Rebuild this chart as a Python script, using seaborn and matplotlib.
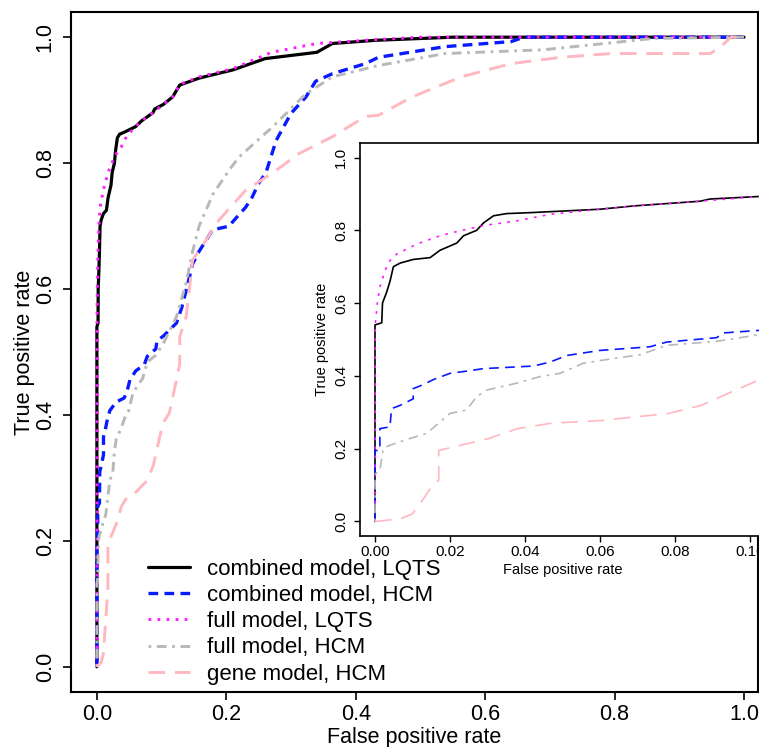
import matplotlib
matplotlib.use("Agg")
import matplotlib.pyplot as plt
import pandas as pd
import seaborn as sns

################ ROC CURVE POINTS ################

model_names = ["combined model, LQTS", "combined model, HCM", "full model, LQTS",
               "full model, HCM", "gene model, HCM"]

comb_lqts_fpr = [0, 0, 0.0018, 0.002, 0.0031, 0.004, 0.0049, 0.0067, 0.0102, 0.0147, 0.0173,
                 0.0218, 0.0236, 0.0271, 0.0289, 0.0316, 0.0351, 0.0422, 0.06, 0.0689, 0.0867,
                 0.0893, 0.1024, 0.117, 0.128, 0.158, 0.21, 0.26, 0.34, 0.364, 0.43, 0.55, 1.0]
comb_lqts_tpr = [0, 0.54, 0.546, 0.60, 0.63, 0.66, 0.70, 0.71, 0.72, 0.725, 0.745,
                 0.765, 0.785, 0.80, 0.82, 0.84, 0.846, 0.849, 0.858, 0.867, 0.88,
                 0.886, 0.893, 0.905, 0.924, 0.935, 0.948, 0.966, 0.976, 0.99, 0.995, 1.0, 1.0]

comb_hcm_fpr = [0, 0, 0.0013, 0.0013, 0.004, 0.0044, 0.0067, 0.0102, 0.0102, 0.0129, 0.0156,
                0.02, 0.0244, 0.0289, 0.0422, 0.0467, 0.0511, 0.06, 0.0733, 0.0778, 0.0911,
                0.0929, 0.1024, 0.123, 0.131, 0.138, 0.148, 0.158, 0.179, 0.205, 0.21, 0.23,
                0.24, 0.25, 0.261, 0.277, 0.30, 0.323, 0.338, 0.364, 0.415, 0.435, 0.538,
                0.64, 0.66, 1.0]
comb_hcm_tpr = [0, 0.195, 0.195, 0.255, 0.26, 0.31, 0.319, 0.337, 0.365, 0.376, 0.39,
                0.407, 0.413, 0.42, 0.427, 0.438, 0.456, 0.47, 0.48, 0.493, 0.505,
                0.518, 0.525, 0.546, 0.57, 0.598, 0.64, 0.66, 0.694, 0.70, 0.707, 0.73,
                0.746, 0.768, 0.784, 0.836, 0.879, 0.905, 0.93, 0.942, 0.958, 0.968, 0.985,
                0.993, 1.0, 1.0]

full_lqts_fpr = [0, 0, 0.0006, 0.0013, 0.0027, 0.004, 0.0058, 0.0111, 0.0173, 0.0227, 0.0289,
                 0.0378, 0.0467, 0.06, 0.0689, 0.0867, 0.1024, 0.117, 0.128, 0.158, 0.21,
                 0.27, 0.34, 0.43, 0.5, 1.0]
full_lqts_tpr = [0, 0.535, 0.598, 0.644, 0.69, 0.717, 0.735, 0.762, 0.785, 0.799, 0.813,
                 0.826, 0.844, 0.858, 0.867, 0.88, 0.893, 0.905, 0.925, 0.937, 0.95,
                 0.976, 0.99, 0.996, 1.0, 1.0]

full_hcm_fpr = [0, 0, 0.0013, 0.0022, 0.0036, 0.0093, 0.0138, 0.0164, 0.02, 0.0244, 0.0271,
                0.0298, 0.0378, 0.044, 0.0493, 0.0556, 0.0644, 0.0707, 0.0778, 0.0911, 0.1024,
                0.123, 0.138, 0.148, 0.158, 0.179, 0.205, 0.22, 0.271, 0.323, 0.364, 0.435,
                0.538, 0.69, 0.785, 0.86, 1.0]
full_hcm_tpr = [0, 0.13, 0.14, 0.20, 0.208, 0.228, 0.242, 0.265, 0.297, 0.306, 0.343,
                0.361, 0.38, 0.398, 0.407, 0.435, 0.449, 0.458, 0.484, 0.495, 0.513,
                0.556, 0.61, 0.66, 0.70, 0.75, 0.79, 0.81, 0.857, 0.91, 0.937, 0.955,
                0.974, 0.98, 0.99, 0.998, 1.0]

gene_hcm_fpr = [0, 0.0067, 0.010, 0.0129, 0.0156, 0.017, 0.017, 0.0227, 0.030, 0.038, 0.047,
                0.060, 0.069, 0.078, 0.087, 0.094, 0.102, 0.112, 0.123, 0.128, 0.128,
                0.138, 0.148, 0.169, 0.189, 0.23, 0.271, 0.312, 0.364, 0.415, 0.435,
                0.487, 0.563, 0.64, 0.717, 0.794, 0.948, 0.963, 0.98, 1.0]
gene_hcm_tpr = [0, 0.007, 0.021, 0.062, 0.104, 0.113, 0.195, 0.209, 0.227, 0.255, 0.27,
                0.277, 0.287, 0.296, 0.319, 0.351, 0.387, 0.403, 0.456, 0.48, 0.524,
                0.556, 0.646, 0.678, 0.71, 0.757, 0.784, 0.815, 0.842, 0.874, 0.876,
                0.905, 0.937, 0.958, 0.968, 0.974, 0.974, 0.984, 1.0, 1.0]

all_fpr = [comb_lqts_fpr, comb_hcm_fpr, full_lqts_fpr, full_hcm_fpr, gene_hcm_fpr]
all_tpr = [comb_lqts_tpr, comb_hcm_tpr, full_lqts_tpr, full_hcm_tpr, gene_hcm_tpr]

df = pd.concat([pd.DataFrame({'fpr': f, 'tpr': t, 'model': m})
                for m, f, t in zip(model_names, all_fpr, all_tpr)], ignore_index=True)

################ STYLE ################

sns.set_theme(style="ticks")
plt.rcParams['font.family'] = ['Liberation Sans', 'DejaVu Sans']
plt.rcParams['lines.scale_dashes'] = False
plt.rcParams['text.color'] = 'black'
plt.rcParams['axes.labelcolor'] = 'black'
plt.rcParams['legend.labelcolor'] = 'black'

line_styles = {
    "combined model, LQTS": dict(color="black", ls="-", lw=2.3),
    "combined model, HCM": dict(color="#0a1aff", ls=(0, (7, 4.5)), lw=2.4),
    "full model, LQTS": dict(color="#ff1cff", ls=(0, (2, 4.5)), lw=2.1),
    "full model, HCM": dict(color="#b8b8b8", ls=(0, (2, 4, 7, 4)), lw=2.1),
    "gene model, HCM": dict(color="#ffb7c0", ls=(0, (12, 7)), lw=2.1),
}

W, H = 759, 747
fig = plt.figure(figsize=(W / 100, H / 100), dpi=100)

################ MAIN ROC PLOT ################

ax = fig.add_axes([71 / W, 55 / H, (758 - 71) / W, 680 / H])
for name in model_names:
    st = line_styles[name]
    sns.lineplot(data=df[df['model'] == name], x='fpr', y='tpr', sort=False, estimator=None,
                 color=st['color'], linestyle=st['ls'], linewidth=st['lw'], label=name, ax=ax)

ax.set_xlim(-0.04, 1.0216)
ax.set_ylim(-0.04, 1.04)
ax.set_xticks([0, 0.2, 0.4, 0.6, 0.8, 1.0])
ax.set_yticks([0, 0.2, 0.4, 0.6, 0.8, 1.0])
ax.set_xticklabels(["0.0", "0.2", "0.4", "0.6", "0.8", "1.0"])
ax.set_yticklabels(["0.0", "0.2", "0.4", "0.6", "0.8", "1.0"], rotation=90, va='center')
ax.tick_params(direction='out', length=6, width=1.2, labelsize=15.5, colors='black')
ax.tick_params(axis='x', pad=3)
ax.tick_params(axis='y', pad=5)
ax.set_xlabel("False positive rate", fontsize=15.5, labelpad=1)
ax.set_ylabel("True positive rate", fontsize=15.5, labelpad=-0.5)
for sp in ax.spines.values():
    sp.set_linewidth(1.5)
    sp.set_color('black')

handles, labels = ax.get_legend_handles_labels()
ax.legend(handles, labels, loc='upper left', bbox_to_anchor=(148 / W, 1 - 558.5 / H),
          bbox_transform=fig.transFigure, frameon=False, borderpad=0, borderaxespad=0,
          handlelength=1.9, handletextpad=0.75, labelspacing=0.24, fontsize=16)

################ INSET (FPR 0 - 0.1) ################

ax_in = fig.add_axes([360 / W, (H - 536) / H, 405 / W, 393 / H])
ax_in.set_facecolor('white')
for name in model_names:
    st = line_styles[name]
    sns.lineplot(data=df[df['model'] == name], x='fpr', y='tpr', sort=False, estimator=None,
                 color=st['color'], linestyle=st['ls'], linewidth=1.2, legend=False, ax=ax_in)

ax_in.set_xlim(-0.004, 0.104)
ax_in.set_ylim(-0.04, 1.04)
ax_in.set_xticks([0, 0.02, 0.04, 0.06, 0.08, 0.10])
ax_in.set_xticklabels(["0.00", "0.02", "0.04", "0.06", "0.08", "0.10"])
ax_in.set_yticks([0, 0.2, 0.4, 0.6, 0.8, 1.0])
ax_in.set_yticklabels(["0.0", "0.2", "0.4", "0.6", "0.8", "1.0"], rotation=90, va='center')
ax_in.tick_params(direction='out', length=4.5, width=1.0, labelsize=11, colors='black')
ax_in.tick_params(axis='x', pad=2)
ax_in.tick_params(axis='y', pad=4)
ax_in.set_xlabel("False positive rate", fontsize=10.5, labelpad=3)
ax_in.set_ylabel("True positive rate", fontsize=10.5, labelpad=4)
for sp in ax_in.spines.values():
    sp.set_linewidth(1.2)
    sp.set_color('black')

fig.savefig("out.png", dpi=100)
